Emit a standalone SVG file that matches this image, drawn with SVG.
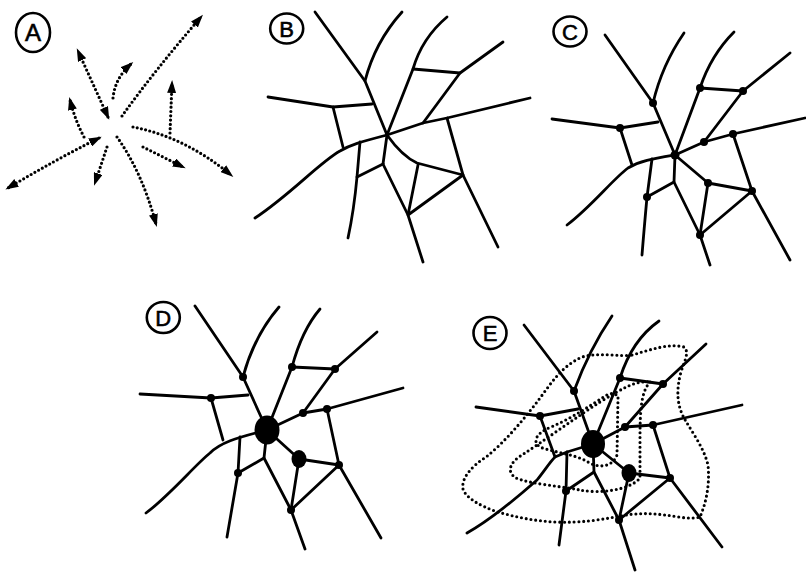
<svg xmlns="http://www.w3.org/2000/svg" width="806" height="574" viewBox="0 0 806 574">
<style>
.road{fill:none;stroke:#000;stroke-width:2.8;stroke-linecap:round;stroke-linejoin:round}
.dot{fill:#000}
.dotted{fill:none;stroke:#000;stroke-width:3.1;stroke-dasharray:0 4.8;stroke-linecap:round;stroke-linejoin:round}
.arr{fill:none;stroke:#000;stroke-width:3.2;stroke-dasharray:0 4.3;stroke-linecap:round}
.ring{fill:none;stroke:#000;stroke-width:2.6}
.lbl{font-family:"Liberation Sans",Arial,sans-serif;font-size:22px;text-anchor:middle;fill:#000;stroke:#000;stroke-width:0.6}
</style>
<defs>
<marker id="head" markerUnits="userSpaceOnUse" markerWidth="13" markerHeight="9" refX="10" refY="4.5" orient="auto-start-reverse" viewBox="0 0 13 9">
<path d="M0,0 L13,4.5 L0,9 Z" fill="#000"/>
</marker>
</defs>
<rect width="806" height="574" fill="#fff"/>

<g id="panel-A">
<ellipse class="ring" cx="33" cy="32.5" rx="17" ry="19.5"/>
<text class="lbl" x="33" y="41" style="font-size:24px">A</text>
<g id="arrows-A">
<path class="arr" d="M108,117 L78,51" marker-start="url(#head)" marker-end="url(#head)"/>
<path class="arr" d="M113,98 Q115,78 131,64" marker-end="url(#head)"/>
<path class="arr" d="M122,116 Q155,70 201,17" marker-end="url(#head)"/>
<path class="arr" d="M84,137 Q75,120 70,100" marker-end="url(#head)"/>
<path class="arr" d="M99,138 Q55,160 8,188" marker-start="url(#head)" marker-end="url(#head)"/>
<path class="arr" d="M107,147 L95,183" marker-end="url(#head)"/>
<path class="arr" d="M117,137 Q142,172 156,224" marker-end="url(#head)"/>
<path class="arr" d="M143,147 L183,167" marker-end="url(#head)"/>
<path class="arr" d="M133,127 Q185,137 231,175" marker-end="url(#head)"/>
<path class="arr" d="M170,133 L172,83" marker-end="url(#head)"/>
</g>
</g>

<g id="panel-B">
<ellipse class="ring" cx="286.7" cy="28.5" rx="16.5" ry="15"/>
<text class="lbl" x="286.7" y="36.5">B</text>
<g id="roads-B">
<path class="road" d="M315,12 L365,81 L387,135"/>
<path class="road" d="M365,81 Q375,42 402,12"/>
<path class="road" d="M387,135 L413,69 Q422,38 447,17"/>
<path class="road" d="M413,69 L460,73"/>
<path class="road" d="M503,42 L460,73 L423,123"/>
<path class="road" d="M530,98 L447,118 L423,123 L387,135"/>
<path class="road" d="M268,97 L333,107 L372,104"/>
<path class="road" d="M333,107 L343,147"/>
<path class="road" d="M255,218 C290,195 320,162 340,151 C350,145 360,142 387,135"/>
<path class="road" d="M360,142 L357,177 Q354,210 348,238"/>
<path class="road" d="M357,177 L383,164"/>
<path class="road" d="M387,135 L383,164 L408,215 L423,262"/>
<path class="road" d="M387,135 Q402,156 417,163 L463,175"/>
<path class="road" d="M418,165 L408,215 L463,175"/>
<path class="road" d="M447,118 L463,175 L498,247"/>
</g>
</g>

<g id="panel-C">
<ellipse class="ring" cx="570" cy="31.5" rx="16.5" ry="15"/>
<text class="lbl" x="570" y="39.5">C</text>
<g id="roads-C">
<path class="road" d="M605,35 L653,103 L675,155"/>
<path class="road" d="M653,103 Q662,65 684,33"/>
<path class="road" d="M675,155 L700,88 Q711,55 734,32"/>
<path class="road" d="M700,88 L743,91"/>
<path class="road" d="M790,53 L743,91 L704,142"/>
<path class="road" d="M805,118 L733,134 L704,142 L675,155"/>
<path class="road" d="M552,119 L620,128 L658,122"/>
<path class="road" d="M620,128 L632,165"/>
<path class="road" d="M567,225 C592,206 612,180 628,168 C640,161 652,159 675,155"/>
<path class="road" d="M652,159 L647,197 Q644,230 642,255"/>
<path class="road" d="M647,197 L674,182"/>
<path class="road" d="M675,155 L674,182 L700,235 L710,265"/>
<path class="road" d="M675,155 L708,183 L752,191"/>
<path class="road" d="M708,183 L700,235 L752,191"/>
<path class="road" d="M733,134 L752,191 L790,260"/>
</g>
<g id="nodes-C">
<circle class="dot" cx="653" cy="103" r="4"/>
<circle class="dot" cx="700" cy="88" r="4"/>
<circle class="dot" cx="743" cy="91" r="4"/>
<circle class="dot" cx="620" cy="128" r="4"/>
<circle class="dot" cx="704" cy="142" r="4"/>
<circle class="dot" cx="733" cy="134" r="4"/>
<circle class="dot" cx="675" cy="155" r="4.5"/>
<circle class="dot" cx="708" cy="183" r="4"/>
<circle class="dot" cx="752" cy="191" r="4"/>
<circle class="dot" cx="647" cy="197" r="4"/>
<circle class="dot" cx="700" cy="235" r="4"/>
</g>
</g>

<g id="panel-D">
<ellipse class="ring" cx="163.3" cy="317.5" rx="16.5" ry="15.5"/>
<text class="lbl" x="163.3" y="325.5">D</text>
<g id="roads-D">
<path class="road" d="M195,306 L243,377 L267,430"/>
<path class="road" d="M243,377 Q254,336 279,307"/>
<path class="road" d="M267,430 L292,367 Q302,330 320,309"/>
<path class="road" d="M292,367 L335,369"/>
<path class="road" d="M377,332 L335,369 L303,413"/>
<path class="road" d="M403,388 L327,409 L303,413 L267,430"/>
<path class="road" d="M140,394 L211,398 L248,395"/>
<path class="road" d="M211,398 L223,440"/>
<path class="road" d="M146,513 C170,495 195,465 210,453 C220,443 235,438 267,430"/>
<path class="road" d="M240,437 L238,473 L227,537"/>
<path class="road" d="M238,473 L264,458"/>
<path class="road" d="M267,430 L264,458 L291,510 L305,549"/>
<path class="road" d="M267,430 L299,459 L339,465"/>
<path class="road" d="M299,459 L291,510 L339,465"/>
<path class="road" d="M327,409 L339,465 L381,538"/>
</g>
<g id="nodes-D">
<ellipse class="dot" cx="267" cy="430" rx="12.5" ry="14.5"/>
<ellipse class="dot" cx="299" cy="459" rx="7.5" ry="9"/>
<circle class="dot" cx="243" cy="377" r="4"/>
<circle class="dot" cx="292" cy="367" r="4"/>
<circle class="dot" cx="335" cy="369" r="4"/>
<circle class="dot" cx="211" cy="398" r="4"/>
<circle class="dot" cx="303" cy="413" r="4"/>
<circle class="dot" cx="327" cy="409" r="4"/>
<circle class="dot" cx="339" cy="465" r="4"/>
<circle class="dot" cx="238" cy="473" r="4"/>
<circle class="dot" cx="291" cy="510" r="4"/>
</g>
</g>

<g id="panel-E">
<ellipse class="ring" cx="490" cy="333" rx="16.5" ry="16"/>
<text class="lbl" x="490" y="341">E</text>
<g id="zones-E">
<path class="dotted" d="M632,355 C650,350 668,343 684,347 C690,352 684,362 681,372 C676,390 677,405 684,418 C692,432 704,448 708,465 C710,485 706,503 700,517 C688,520 676,516 665,515 C650,513 636,513 620,516 C600,520 580,523 555,522 C535,521 515,517 498,512 C480,506 466,498 463,489 C461,478 472,466 486,457 C505,442 525,418 540,398 C552,382 562,366 582,357 C600,352 618,357 632,355 Z"/>
<path class="dotted" d="M650,382 C641,392 640,410 640,440 L640,478 C630,490 600,494 580,490 C560,486 530,484 516,478 C506,472 510,462 522,455 C545,440 575,418 600,402 C620,390 635,380 650,382 Z"/>
<path class="dotted" d="M618,398 L617,455 C612,468 598,468 588,462 C575,454 552,452 540,447 C531,441 538,432 551,427 C570,419 590,406 605,396 C611,392 617,393 618,398 Z"/>
</g>
<g id="roads-E">
<path class="road" d="M524,325 L574,391 L593,444"/>
<path class="road" d="M574,391 Q589,350 612,316"/>
<path class="road" d="M593,444 L620,378 Q632,340 659,321"/>
<path class="road" d="M620,378 L663,384"/>
<path class="road" d="M706,344 L663,384 L625,427"/>
<path class="road" d="M742,405 L653,425 L625,427 L593,444"/>
<path class="road" d="M476,407 L540,416 L578,409"/>
<path class="road" d="M540,416 L555,457"/>
<path class="road" d="M467,533 C490,520 520,495 537,480 C545,470 550,462 555,457 L567,452 L593,444"/>
<path class="road" d="M567,452 L566,491 L559,545"/>
<path class="road" d="M566,491 L594,472"/>
<path class="road" d="M593,444 L594,472 L619,520 L635,570"/>
<path class="road" d="M593,444 L629,473 L670,478"/>
<path class="road" d="M629,473 L619,520 L670,478"/>
<path class="road" d="M653,425 L670,478 L722,547"/>
</g>
<g id="nodes-E">
<ellipse class="dot" cx="593" cy="444" rx="12" ry="14"/>
<ellipse class="dot" cx="629" cy="473" rx="7.5" ry="9"/>
<circle class="dot" cx="574" cy="391" r="4"/>
<circle class="dot" cx="620" cy="378" r="4"/>
<circle class="dot" cx="663" cy="384" r="4"/>
<circle class="dot" cx="540" cy="416" r="4"/>
<circle class="dot" cx="625" cy="427" r="4"/>
<circle class="dot" cx="653" cy="425" r="4"/>
<circle class="dot" cx="670" cy="478" r="4"/>
<circle class="dot" cx="566" cy="491" r="4"/>
<circle class="dot" cx="619" cy="520" r="4"/>
</g>
</g>
</svg>
